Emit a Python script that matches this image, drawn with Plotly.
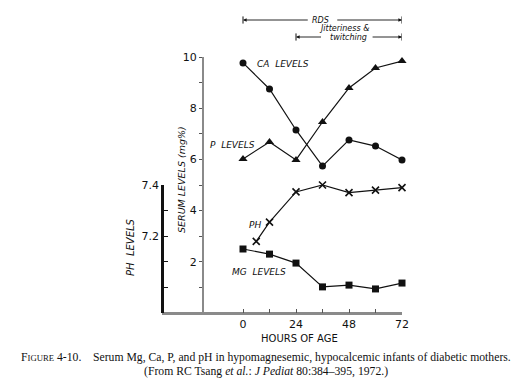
import plotly.graph_objects as go

# ---- data ----
hours = [0, 12, 24, 36, 48, 60, 72]
ca_levels = [9.77, 8.75, 7.15, 5.74, 6.76, 6.52, 5.98]
p_levels = [6.02, 6.68, 5.98, 7.46, 8.79, 9.57, 9.84]
mg_levels = [2.50, 2.30, 1.95, 1.02, 1.09, 0.94, 1.17]
ph_hours = [6, 12, 24, 36, 48, 60, 72]
ph_levels = [7.18, 7.255, 7.373, 7.40, 7.37, 7.38, 7.39]

x_ticks = [0, 12, 24, 36, 48, 60, 72]
x_ticktext = ["0", "", "24", "", "48", "", "72"]
serum_ticks = [1, 2, 3, 4, 5, 6, 7, 8, 9, 10]
serum_ticktext = ["", "2", "", "4", "", "6", "", "8", "", "10"]
ph_ticks = [7.0, 7.1, 7.2, 7.3, 7.4]
ph_ticktext = ["", "", "7.2", "", "7.4"]

W, H = 526, 389
OFF = 8  # page body margin of the browser
L = 162 - OFF
T = 57 - OFF
B = H - (313 - OFF)
R = W - (402 - OFF)
PW, PH_ = W - L - R, H - T - B


def px(p):
    return (p - OFF - L) / PW


def py(p):
    return (H - B - (p - OFF)) / PH_


font = "DejaVu Sans"
black = "#111111"
grey = "#8a8a8a"

fig = go.Figure()
line_style = dict(color=black, width=1.2)
fig.add_trace(go.Scatter(x=hours, y=ca_levels, mode="lines+markers", line=line_style,
                         marker=dict(symbol="circle", size=7, color=black), cliponaxis=False))
fig.add_trace(go.Scatter(x=hours, y=p_levels, mode="lines+markers", line=line_style,
                         marker=dict(symbol="triangle-up", size=8, color=black), cliponaxis=False))
fig.add_trace(go.Scatter(x=hours, y=mg_levels, mode="lines+markers", line=line_style,
                         marker=dict(symbol="square", size=7, color=black), cliponaxis=False))
fig.add_trace(go.Scatter(x=ph_hours, y=ph_levels, yaxis="y2", mode="lines+markers", line=line_style,
                         marker=dict(symbol="x-thin-open", size=7, line=dict(color=black, width=1.6)),
                         cliponaxis=False))

tickfont = dict(family=font, size=11, color=black)
fig.update_layout(
    width=W, height=H, margin=dict(l=L, r=R, t=T, b=B),
    paper_bgcolor="white", plot_bgcolor="rgba(0,0,0,0)", showlegend=False,
    xaxis=dict(range=[-36.68, 72], domain=[0, 1], showline=True, linecolor=grey, linewidth=2,
               ticks="inside", ticklen=4, tickcolor="#555", tickvals=x_ticks, ticktext=x_ticktext,
               tickfont=tickfont, showgrid=False, zeroline=False),
    yaxis=dict(range=[0, 10], domain=[0, 1], anchor="free", position=px(203), showline=True,
               linecolor=grey, linewidth=2, ticks="outside", ticklen=3, tickcolor="#555",
               tickvals=serum_ticks, ticktext=serum_ticktext, tickfont=tickfont,
               showgrid=False, zeroline=False),
    yaxis2=dict(range=[6.9, 7.4], domain=[0, 0.5], anchor="free", position=0, showline=True,
                linecolor=black, linewidth=2.5, ticks="inside", ticklen=4, tickcolor=black,
                tickvals=ph_ticks, ticktext=ph_ticktext, tickfont=tickfont,
                showgrid=False, zeroline=False),
)

lab = dict(family=font, size=9, color=black)
ann = []


def text(t, x, y, xanchor="left", angle=0, f=lab):
    ann.append(dict(text=t, x=px(x), y=py(y), xref="paper", yref="paper", showarrow=False,
                    xanchor=xanchor, yanchor="middle", textangle=angle, font=f))


text("<i>CA  LEVELS</i>", 255, 64)
text("<i>P  LEVELS</i>", 208, 145)
text("<i>PH</i>", 247, 225)
text("<i>MG  LEVELS</i>", 230, 272)
text("<i>SERUM LEVELS (mg%)</i>", 181, 180, xanchor="center", angle=-90,
     f=dict(family=font, size=9.5, color=black))
text("<i>PH  LEVELS</i>", 130, 247, xanchor="center", angle=-90,
     f=dict(family=font, size=10, color=black))
text("HOURS OF AGE", 299, 338, xanchor="center", f=dict(family=font, size=10, color=black))
text("<i>RDS</i>", 320, 20, xanchor="center", f=dict(family=font, size=8, color=black))
text("<i>Jitteriness &</i>", 344, 28, xanchor="center", f=dict(family=font, size=8, color=black))
text("<i>twitching</i>", 348, 37, xanchor="center", f=dict(family=font, size=8, color=black))

cap = dict(family="Liberation Serif", size=11.7, color=black)
text("F<span style='font-size:8.7px'>IGURE</span> 4-10.    Serum Mg, Ca, P, and pH in hypomagnesemic, "
     "hypocalcemic infants of diabetic mothers.", 266, 357, xanchor="center", f=cap)
text("(From RC Tsang <i>et al.</i>: <i>J Pediat</i> 80:384–395, 1972.)", 266, 371, xanchor="center", f=cap)

# bottom axis line drawn explicitly (spans the whole plot area)
shapes = [dict(type="line", xref="paper", yref="paper", x0=0, x1=1, y0=0, y1=0,
               line=dict(color=grey, width=2), layer="below")]


# brackets (span in hours of age)
def bracket(x0, x1, ypx, gap0, gap1):
    yy = py(ypx)
    for xe in (x0, x1):
        shapes.append(dict(type="line", xref="x", yref="paper", x0=xe, x1=xe, y0=yy - 0.014, y1=yy + 0.014,
                           line=dict(color=black, width=1)))
    for tip, tail in ((x0, gap0), (x1, gap1)):
        ann.append(dict(x=tip, y=yy, xref="x", yref="paper", ax=tail, ay=0, axref="x", ayref="pixel",
                        text="", showarrow=True, arrowhead=2, arrowsize=0.8, arrowwidth=0.9,
                        arrowcolor=black, standoff=0))


bracket(0, 72, 20, 30, 42)
bracket(24, 72, 37, 36, 58)

fig.update_layout(annotations=ann, shapes=shapes)
fig.write_html("out.html")
